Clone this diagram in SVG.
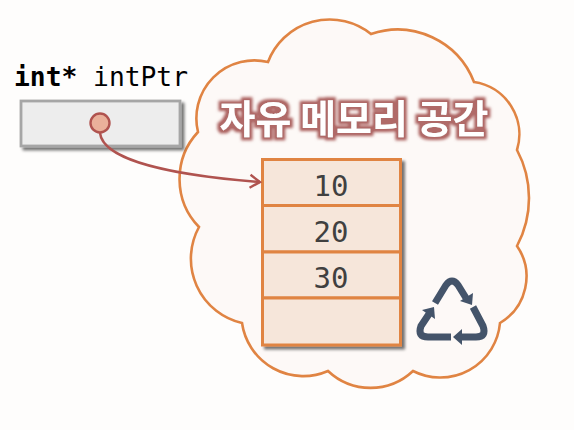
<svg xmlns="http://www.w3.org/2000/svg" width="574" height="430" viewBox="0 0 574 430">
<style>
.mono{font-family:"DejaVu Sans Mono","Liberation Mono",monospace}
.cell{fill:#f6e6da;stroke:#e08443;stroke-width:3}
.val{font-size:29px;fill:#404040;text-anchor:middle}
.rec{fill:none;stroke:#44546a;stroke-width:7;stroke-linejoin:round}
.arr{fill:#44546a}
</style>
<defs>
<filter id="sh" x="-20%" y="-20%" width="140%" height="140%"><feGaussianBlur in="SourceAlpha" stdDeviation="1.5"/><feOffset dx="3" dy="3"/><feComponentTransfer><feFuncA type="linear" slope="0.55"/></feComponentTransfer><feMerge><feMergeNode/><feMergeNode in="SourceGraphic"/></feMerge></filter>
<filter id="glow" x="-10%" y="-30%" width="120%" height="160%"><feMorphology in="SourceAlpha" operator="dilate" radius="3"/><feGaussianBlur stdDeviation="1.5"/><feComponentTransfer result="a"><feFuncA type="linear" slope="1.1"/></feComponentTransfer><feFlood flood-color="#b06a68"/><feComposite in2="a" operator="in"/><feMerge><feMergeNode/><feMergeNode in="SourceGraphic"/></feMerge></filter>
<marker id="open" markerUnits="userSpaceOnUse" markerWidth="16" markerHeight="18" refX="11" refY="9" orient="auto"><path d="M1,2.5L11,9L1,15.5" fill="none" stroke="#b0534f" stroke-width="2.4"/></marker>
</defs>
<rect width="574" height="430" fill="#fefdfc"/>
<g id="cloud">
<path d="M268,62A66,66 0 0 1 371,34A82,82 0 0 1 474,82A53,53 0 0 1 517,150A102,102 0 0 1 517,246A54,54 0 0 1 500,323A60,60 0 0 1 413,371A62,62 0 0 1 328,371A62,62 0 0 1 242,323A66,66 0 0 1 199,227A69,69 0 0 1 198,132A58,58 0 0 1 268,62Z" fill="#fdf9f7" stroke="#e08443" stroke-width="2.6"/>
<text x="354" y="133" text-anchor="middle" font-family="'Noto Sans CJK KR',sans-serif" font-weight="700" font-size="39" fill="#fff" filter="url(#glow)">자유 메모리 공간</text>
</g>
<g id="pointer">
<text class="mono" x="14" y="86" font-size="26" fill="#000" textLength="174" lengthAdjust="spacingAndGlyphs"><tspan font-weight="700">int*</tspan> intPtr</text>
<rect x="21" y="101" width="159" height="45" fill="#ededed" stroke="#a6a6a6" stroke-width="2.8" filter="url(#sh)"/>
</g>
<g id="memory">
<g filter="url(#sh)">
<rect class="cell" x="262.500" y="159.500" width="138" height="46"/>
<rect class="cell" x="262.500" y="205.500" width="138" height="46.500"/>
<rect class="cell" x="262.500" y="252" width="138" height="46"/>
<rect class="cell" x="262.500" y="298" width="138" height="47"/>
</g>
<text class="mono val" x="331" y="196">10</text>
<text class="mono val" x="331" y="242">20</text>
<text class="mono val" x="331" y="288">30</text>
</g>
<g id="recycle">
<path class="rec" d="M435,303L446,285Q452,277 458,285L466,298"/>
<polygon class="arr" points="473,293 460,301 472,305"/>
<path class="rec" d="M473,307L483,326Q487,337 476,337L460,337"/>
<polygon class="arr" points="462,329 453,337 462,345"/>
<path class="rec" d="M451,337L428,337Q417,337 421,326L429,314"/>
<polygon class="arr" points="422,310 434,307 435,319"/>
</g>
<g id="connectors">
<path d="M100,133C103,160 170,175 260,182" fill="none" stroke="#b0534f" stroke-width="2.4" marker-end="url(#open)"/>
</g>
<g id="pointer-dot">
<circle cx="100" cy="123" r="9.500" fill="#eab09a" stroke="#b0534f" stroke-width="2.400"/>
</g>
</svg>
